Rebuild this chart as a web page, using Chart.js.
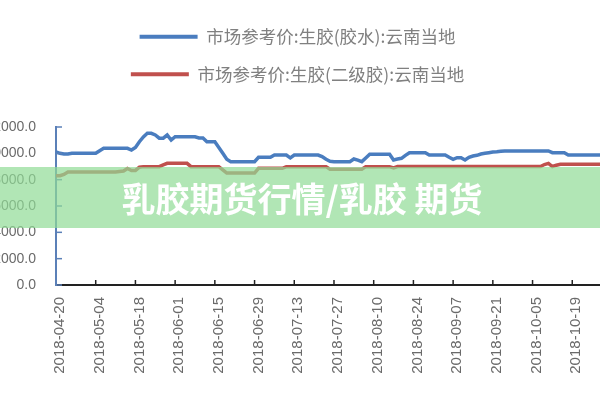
<!DOCTYPE html>
<html>
<head>
<meta charset="utf-8">
<script src="https://cdn.jsdelivr.net/npm/chart.js@4"></script>
<style>
  html, body { margin: 0; padding: 0; background: #fff; }
  #wrap { position: relative; width: 600px; height: 400px; overflow: hidden; }
  #box { position: absolute; left: -43px; top: 0; width: 681px; height: 400px; }
  #band {
    position: absolute; left: 0; top: 167px; width: 600px; height: 61px;
    background: rgba(144, 220, 150, 0.7);
    color: #fff; font-family: "Noto Sans CJK SC", sans-serif; font-weight: 700;
    font-size: 34px; line-height: 61px; text-align: center; padding-left: 4px;
    box-sizing: border-box;
  }
</style>
</head>
<body>
<div id="wrap">
  <div id="box"><canvas id="chart"></canvas></div>
  <div id="band">乳胶期货行情/乳胶 期货</div>
</div>
<script>
// series names
const seriesNames = ['市场参考价:生胶(胶水):云南当地', '市场参考价:生胶(二级胶):云南当地'];

// 胶水 (blue), one value per trading day from 2018-04-20
const latexPrice = [
  10100, 10000, 9950, 9950, 10000, 10000, 10000, 10000, 10000, 10000,
  10000, 10200, 10380, 10380, 10380, 10380, 10380, 10380, 10380, 10250,
  10450, 10880, 11250, 11520, 11520, 11400, 11150, 11150, 11390, 11010,
  11260, 11260, 11260, 11260, 11260, 11260, 11170, 11170, 10880, 10880,
  10880, 10450, 10000, 9550, 9370, 9370, 9370, 9370, 9370, 9370,
  9370, 9700, 9700, 9700, 9700, 9870, 9870, 9870, 9870, 9650,
  9870, 9870, 9870, 9870, 9870, 9870, 9870, 9750, 9550, 9400,
  9370, 9370, 9370, 9370, 9370, 9570, 9480, 9370, 9650, 9930,
  9930, 9930, 9930, 9930, 9930, 9500, 9570, 9620, 9850, 10050,
  10050, 10050, 10050, 10050, 9870, 9870, 9870, 9870, 9870, 9700,
  9550, 9670, 9670, 9500, 9700, 9800, 9850, 9950, 10000, 10050,
  10100, 10120, 10150, 10180, 10180, 10180, 10180, 10180, 10180, 10180,
  10180, 10180, 10180, 10180, 10180, 10050, 10050, 10050, 10050, 9870,
  9870, 9870, 9870, 9870, 9870, 9870, 9870, 9870, 9870, 9870
];

// 二级胶 (red)
const gradeTwoPrice = [
  8300, 8300, 8400, 8580, 8580, 8580, 8580, 8580, 8580, 8580,
  8580, 8580, 8580, 8580, 8580, 8580, 8620, 8660, 8850, 8700,
  8700, 8950, 8990, 8990, 8990, 8990, 8990, 9120, 9240, 9240,
  9240, 9240, 9240, 9240, 8990, 8990, 8990, 8990, 8990, 8990,
  8990, 8990, 8750, 8500, 8500, 8500, 8500, 8500, 8500, 8500,
  8500, 8860, 8860, 8860, 8860, 8860, 8860, 8860, 8990, 8990,
  8990, 8990, 8990, 8990, 8990, 8990, 8990, 8990, 8990, 8790,
  8790, 8790, 8790, 8790, 8790, 8790, 8790, 8790, 8990, 8990,
  8990, 8990, 8990, 8990, 8990, 8900, 9000, 9000, 9000, 9000,
  9000, 9000, 9000, 9000, 9000, 9000, 9000, 9000, 9000, 9000,
  9000, 9000, 9000, 9000, 9000, 9000, 9000, 9000, 9000, 9000,
  9000, 9000, 9000, 9000, 9000, 9000, 9000, 9000, 9000, 9000,
  9000, 9000, 9000, 9150, 9240, 9000, 9100, 9170, 9170, 9170,
  9170, 9170, 9170, 9170, 9170, 9170, 9170, 9170, 9170, 9170
];

// y axis ticks
const yTicks = [0, 2000, 4000, 6000, 8000, 10000, 12000];

// categories: weekdays starting 2018-04-20
const dates = [];
let d = new Date(Date.UTC(2018, 3, 20));
while (dates.length < latexPrice.length) {
  const wd = d.getUTCDay();
  if (wd !== 0 && wd !== 6) dates.push(d.toISOString().slice(0, 10));
  d.setUTCDate(d.getUTCDate() + 1);
}

const axisBlue = '#5b80b8';

// small inward tick marks like the original
const innerTicks = {
  id: 'innerTicks',
  afterDraw(chart) {
    const {ctx, scales: {x, y}} = chart;
    ctx.save();
    ctx.lineWidth = 1.5;
    ctx.strokeStyle = axisBlue;
    yTicks.forEach(v => {
      const py = y.getPixelForValue(v);
      ctx.beginPath();
      ctx.moveTo(x.left, py);
      ctx.lineTo(x.left + 6, py);
      ctx.stroke();
    });
    ctx.strokeStyle = '#222';
    for (let i = 10; i < dates.length; i += 10) {
      const px = x.getPixelForValue(i);
      ctx.beginPath();
      ctx.moveTo(px, y.bottom);
      ctx.lineTo(px, y.bottom - 5);
      ctx.stroke();
    }
    ctx.restore();
  }
};

const ctx = document.getElementById('chart').getContext('2d');
new Chart(ctx, {
  type: 'line',
  data: {
    labels: dates,
    datasets: [{
      label: seriesNames[0],
      data: latexPrice,
      borderColor: '#4a7dbf',
      backgroundColor: '#4a7dbf',
      borderWidth: 3.5,
      pointRadius: 0,
      tension: 0
    }, {
      label: seriesNames[1],
      data: gradeTwoPrice,
      borderColor: '#c0504d',
      backgroundColor: '#c0504d',
      borderWidth: 3.5,
      pointRadius: 0,
      tension: 0
    }]
  },
  options: {
    responsive: true,
    maintainAspectRatio: false,
    animation: false,
    layout: { padding: { top: 8, right: 0, bottom: 0, left: 0 } },
    plugins: {
      legend: {
        position: 'top',
        labels: {
          boxWidth: 58,
          boxHeight: 4,
          padding: 20,
          color: '#808080',
          font: { family: '"Noto Sans CJK SC", sans-serif', size: 17.5 },
          generateLabels: function(chart) {
            const items = Chart.defaults.plugins.legend.labels.generateLabels(chart);
            items.forEach(it => { it.lineWidth = 0; });
            return items;
          }
        }
      },
      // empty title used only as spacing between legend and plot
      title: {
        display: true,
        text: ' ',
        weight: 500,
        font: { size: 10 },
        padding: { top: 0, bottom: 22 }
      },
      tooltip: { enabled: false }
    },
    scales: {
      x: {
        grid: { display: false, drawTicks: false },
        border: { color: '#222', width: 2 },
        afterFit: function(scale) { scale.height = 115; },
        ticks: {
          autoSkip: false,
          maxRotation: 90,
          minRotation: 90,
          padding: 12,
          labelOffset: 4,
          color: '#6a6a6a',
          font: { family: '"Liberation Sans", sans-serif', size: 15 },
          callback: function(value, index) {
            return index % 10 === 0 ? dates[index] : '';
          }
        }
      },
      y: {
        min: 0,
        max: 12000,
        grid: { display: false, drawTicks: false },
        border: { color: axisBlue, width: 2 },
        afterFit: function(scale) { scale.width = 99; },
        ticks: {
          stepSize: 2000,
          padding: 20,
          color: '#6a6a6a',
          font: { family: '"Liberation Sans", sans-serif', size: 14 },
          callback: function(value) { return value.toFixed(1); }
        }
      }
    }
  },
  plugins: [innerTicks]
});
</script>
</body>
</html>
